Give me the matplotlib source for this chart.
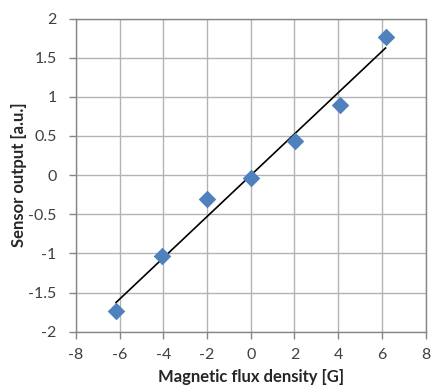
import matplotlib
matplotlib.use("Agg")
import matplotlib.pyplot as plt
import numpy as np

# measured values
flux = [-6.17, -4.08, -2.02, 0.0, 2.02, 4.09, 6.17]
output = [-1.74, -1.03, -0.30, -0.04, 0.43, 0.90, 1.77]

x_ticks = [-8, -6, -4, -2, 0, 2, 4, 6, 8]
y_ticks = [-2, -1.5, -1, -0.5, 0, 0.5, 1, 1.5, 2]
y_labels = ["-2", "-1.5", "-1", "-0.5", "0", "0.5", "1", "1.5", "2"]

plt.rcParams['font.family'] = ['Lato', 'DejaVu Sans']
plt.rcParams['axes.unicode_minus'] = False

fig = plt.figure(figsize=(4.32, 3.87), dpi=100)
ax = fig.add_axes([0.176, 0.143, 0.809, 0.809])

# linear trendline
slope, icpt = np.polyfit(flux, output, 1)
xs = np.array([min(flux), max(flux)])
ax.plot(xs, slope * xs + icpt, color='black', lw=1.2, zorder=3)

ax.scatter(flux, output, marker='D', s=80, color='#4f81bd', zorder=4, linewidths=0)

ax.set_xlim(-8, 8)
ax.set_ylim(-2, 2)
ax.set_xticks(x_ticks)
ax.set_yticks(y_ticks)
ax.set_yticklabels(y_labels)
ax.grid(True, color='#b3b3b3', lw=1)
ax.set_axisbelow(True)

for s in ax.spines.values():
    s.set_color('#868686')
    s.set_linewidth(1)

ax.tick_params(axis='both', colors='#868686', labelcolor='#404040', labelsize=11.5, length=5, width=1)
ax.tick_params(axis='x', pad=7)
ax.tick_params(axis='y', pad=9)

ax.set_xlabel("Magnetic flux density [G]", fontsize=12, fontweight='bold', color='#262626', labelpad=5)
ax.set_ylabel("Sensor output [a.u.]", fontsize=12, fontweight='bold', color='#262626', labelpad=1)

fig.savefig('out.png', dpi=100)
